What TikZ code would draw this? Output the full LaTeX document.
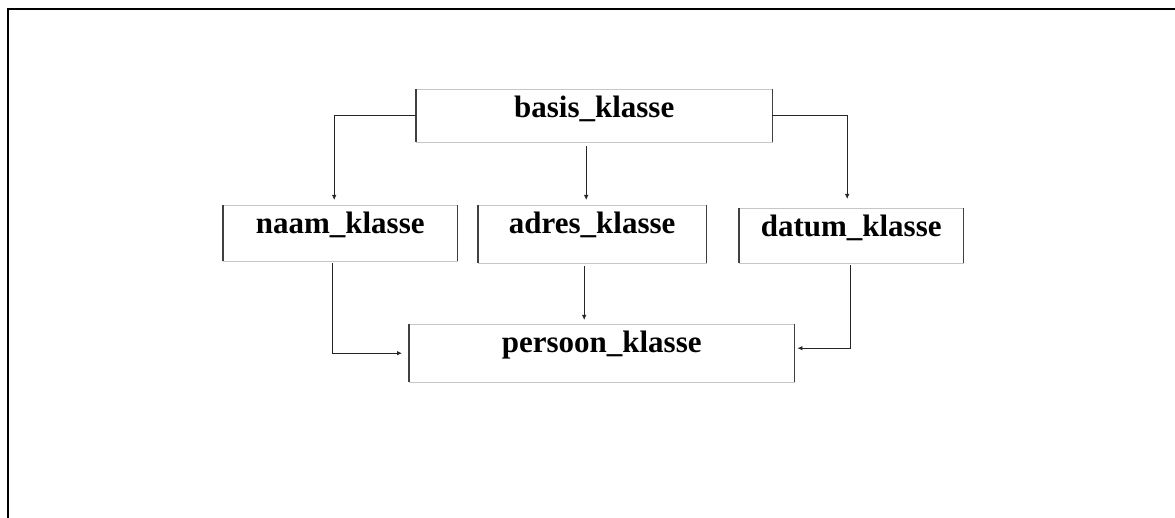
\documentclass[tikz,border=0pt]{standalone}
\usepackage{fontspec}
\setmainfont{Liberation Serif}
\usetikzlibrary{positioning,arrows.meta}

\begin{document}
\begin{tikzpicture}[x=1pt,y=-1pt,
	klasse/.style={anchor=north west, inner xsep=0pt, inner ysep=0pt, text height=28pt,
		font=\bfseries\fontsize{31}{37}\selectfont,
		append after command={\pgfextra{
			\draw[gray!45, line width=0.8pt] (\tikzlastnode.north west) rectangle (\tikzlastnode.south east);
			\draw[black!75, line width=1.2pt]
			(\tikzlastnode.north west) -- (\tikzlastnode.south west)
			(\tikzlastnode.north east) -- (\tikzlastnode.south east);}}},
	pijl/.style={-{Latex[length=5pt,width=4.5pt]}, line width=0.8pt, black!85}]
\useasboundingbox (0,0) rectangle (1175,518);
\draw[line width=1.2pt] (1175,9) -- (8,9) -- (8,518);

		\node[klasse, minimum width=356pt, text depth=25pt] (basis) at (416,89) {basis\_klasse};
		\node[klasse, minimum width=234pt, text depth=28pt] (naam) at (223,205) {naam\_klasse};
		\node[klasse, minimum width=228pt, text depth=30pt] (adres) at (478,205) {adres\_klasse};
		\node[klasse, minimum width=224pt, text depth=27pt] (datum) at (739,208) {datum\_klasse};
		\node[klasse, minimum width=385pt, text depth=30pt] (persoon) at (409,324) {persoon\_klasse};

	% van basis naar de drie klassen
	\draw[pijl, shorten >=5pt] (basis.west) -| ([xshift=-6pt]naam.north);
	\draw[pijl, shorten <=4pt, shorten >=5pt] ([xshift=-8pt]basis.south) -- ([xshift=-8pt]basis.south |- adres.north);
	\draw[pijl, shorten >=9pt] (basis.east) -| ([xshift=-4pt]datum.north);

	% naar persoon
	\draw[pijl, shorten <=2pt, shorten >=7pt] ([xshift=-8pt]naam.south) |- (persoon.west);
	\draw[pijl, shorten <=3pt, shorten >=4pt] ([xshift=-8pt]adres.south) -- ([xshift=-8pt]adres.south |- persoon.north);
	\draw[pijl, shorten <=2pt, shorten >=3pt] ([xshift=-1pt]datum.south) |- ([yshift=5pt]persoon.east);
\end{tikzpicture}
\end{document}
